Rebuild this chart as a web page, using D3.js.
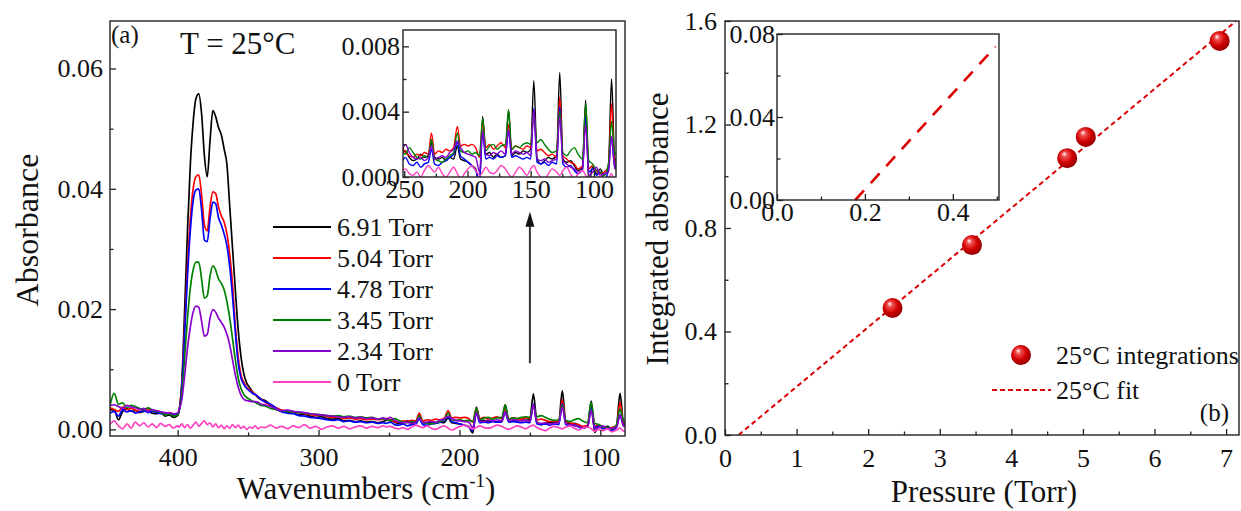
<!DOCTYPE html>
<html>
<head>
<meta charset="utf-8">
<script src="https://cdn.jsdelivr.net/npm/d3@7"></script>
<style>
body { margin: 0; background: #fff; }
svg { display: block; }
text { font-family: "Liberation Serif", "Times New Roman", serif; fill: #111; }
</style>
</head>
<body>
<script>
// ---- panel (a): spectra, one shared wavenumber grid (cm-1) ----
var wavenumbers = [
	448, 445, 442, 439, 436, 433, 430, 427, 424, 421, 418, 415, 412, 409, 406, 403, 400,
	399, 397, 395, 393, 391, 389, 387, 385, 383, 381, 379, 377, 375, 373, 371, 369, 367, 365, 363, 361, 359, 357, 355, 353, 351, 349, 347, 345, 343, 341,
	338, 334, 330, 326, 322, 318, 314, 310, 306, 302, 298, 294, 290, 286, 282, 278, 274, 270, 266, 262, 258, 254,
	252, 249, 246, 243, 240, 237, 234, 231, 228.5, 226, 223, 220, 217, 214, 211, 208, 205.5, 202.5, 199.5, 196.5, 193.5, 190.5, 188,
	185.5, 182.5, 179.5, 176.5, 173.5, 170, 167.5, 165, 162, 159, 156, 153, 150, 147.5, 145, 142, 139, 136, 133, 129.5, 127,
	124.5, 121.5, 118.5, 115.5, 112.5, 109, 106.5, 104, 101, 98, 95, 92, 88.5, 86, 83.5, 82
];

var abs691 = [
	0.0033, 0.0032, 0.0016, 0.0030, 0.0034, 0.0030, 0.0031, 0.0028, 0.0030, 0.0031, 0.0027, 0.0026, 0.0028, 0.0022, 0.0024, 0.0020, 0.0023,
	0.0030, 0.0080, 0.0200, 0.0330, 0.0440, 0.0510, 0.0550, 0.0558, 0.0525, 0.0455, 0.0420, 0.0480, 0.0530, 0.0520, 0.0502, 0.0490, 0.0466, 0.0440, 0.0370, 0.0300, 0.0230, 0.0165, 0.0120, 0.0092, 0.0077, 0.0070, 0.0063, 0.0058, 0.0053, 0.0050,
	0.0048, 0.0040, 0.0033, 0.0030, 0.0029, 0.0028, 0.0024, 0.0025, 0.0022, 0.0020, 0.0021, 0.0018, 0.0017, 0.0018, 0.0014, 0.0015, 0.0013, 0.0014, 0.0012, 0.0013, 0.0011, 0.0013,
	0.0015, 0.0016, 0.0012, 0.0010, 0.0011, 0.0014, 0.0012, 0.0013, 0.0021, 0.0012, 0.0011, 0.0012, 0.0010, 0.0012, 0.0011, 0.0019, 0.0011, 0.0010, 0.0009, 0.0007, 0.0005, -0.0006, 0.0037,
	0.0014, 0.0015, 0.0012, 0.0014, 0.0012, 0.0013, 0.0041, 0.0013, 0.0015, 0.0014, 0.0016, 0.0015, 0.0017, 0.0059, 0.0012, 0.0008, 0.0010, 0.0012, 0.0011, 0.0013, 0.0064,
	0.0011, 0.0009, 0.0010, 0.0007, 0.0004, 0.0006, 0.0047, -0.0005, 0.0006, 0.0002, 0.0005, 0.0001, 0.0007, 0.0060, 0.0010, 0.0012
];
var abs504 = [
	0.0036, 0.0033, 0.0030, 0.0037, 0.0033, 0.0035, 0.0032, 0.0030, 0.0033, 0.0034, 0.0030, 0.0031, 0.0029, 0.0027, 0.0028, 0.0026, 0.0026,
	0.0032, 0.0075, 0.0170, 0.0270, 0.0350, 0.0400, 0.0420, 0.0423, 0.0390, 0.0340, 0.0330, 0.0370, 0.0395, 0.0392, 0.0370, 0.0355, 0.0345, 0.0325, 0.0290, 0.0240, 0.0170, 0.0120, 0.0090, 0.0078, 0.0070, 0.0066, 0.0062, 0.0058, 0.0054, 0.0051,
	0.0045, 0.0041, 0.0036, 0.0032, 0.0031, 0.0029, 0.0028, 0.0026, 0.0025, 0.0023, 0.0024, 0.0021, 0.0020, 0.0021, 0.0018, 0.0019, 0.0017, 0.0018, 0.0016, 0.0017, 0.0016, 0.0017,
	0.0018, 0.0015, 0.0013, 0.0012, 0.0014, 0.0013, 0.0015, 0.0014, 0.0027, 0.0014, 0.0016, 0.0015, 0.0017, 0.0016, 0.0018, 0.0031, 0.0019, 0.0020, 0.0019, 0.0020, 0.0018, 0.0012, 0.0034,
	0.0018, 0.0020, 0.0017, 0.0019, 0.0021, 0.0018, 0.0032, 0.0017, 0.0019, 0.0018, 0.0017, 0.0019, 0.0018, 0.0041, 0.0016, 0.0017, 0.0015, 0.0013, 0.0014, 0.0012, 0.0049,
	0.0013, 0.0011, 0.0009, 0.0008, 0.0005, 0.0007, 0.0041, 0.0005, 0.0007, 0.0004, 0.0002, 0.0003, 0.0006, 0.0045, 0.0008, 0.0010
];
var abs478 = [
	0.0027, 0.0030, 0.0022, 0.0033, 0.0029, 0.0031, 0.0027, 0.0029, 0.0031, 0.0028, 0.0030, 0.0028, 0.0026, 0.0025, 0.0027, 0.0024, 0.0025,
	0.0030, 0.0072, 0.0160, 0.0255, 0.0330, 0.0380, 0.0398, 0.0400, 0.0365, 0.0315, 0.0312, 0.0350, 0.0378, 0.0375, 0.0352, 0.0340, 0.0325, 0.0305, 0.0270, 0.0220, 0.0160, 0.0110, 0.0085, 0.0075, 0.0068, 0.0064, 0.0060, 0.0058, 0.0055, 0.0050,
	0.0046, 0.0042, 0.0035, 0.0029, 0.0027, 0.0026, 0.0023, 0.0022, 0.0020, 0.0019, 0.0018, 0.0016, 0.0015, 0.0016, 0.0013, 0.0014, 0.0012, 0.0013, 0.0011, 0.0012, 0.0010, 0.0011,
	0.0010, 0.0012, 0.0008, 0.0007, 0.0009, 0.0006, 0.0008, 0.0009, 0.0017, 0.0008, 0.0007, 0.0009, 0.0010, 0.0012, 0.0014, 0.0021, 0.0013, 0.0011, 0.0009, 0.0007, 0.0004, -0.0002, 0.0027,
	0.0011, 0.0012, 0.0011, 0.0013, 0.0012, 0.0013, 0.0028, 0.0012, 0.0013, 0.0012, 0.0011, 0.0012, 0.0011, 0.0042, 0.0009, 0.0008, 0.0009, 0.0007, 0.0009, 0.0008, 0.0043,
	0.0008, 0.0006, 0.0007, 0.0004, 0.0002, 0.0005, 0.0037, 0.0003, 0.0005, 0.0001, 0.0003, -0.0002, 0.0004, 0.0024, 0.0006, 0.0008
];
var abs345 = [
	0.0040, 0.0060, 0.0042, 0.0044, 0.0036, 0.0040, 0.0038, 0.0035, 0.0033, 0.0036, 0.0032, 0.0030, 0.0028, 0.0024, 0.0026, 0.0022, 0.0024,
	0.0030, 0.0060, 0.0120, 0.0185, 0.0235, 0.0265, 0.0278, 0.0278, 0.0250, 0.0218, 0.0222, 0.0255, 0.0272, 0.0265, 0.0250, 0.0243, 0.0232, 0.0212, 0.0185, 0.0150, 0.0115, 0.0085, 0.0068, 0.0058, 0.0053, 0.0050, 0.0047, 0.0045, 0.0042, 0.0040,
	0.0039, 0.0035, 0.0033, 0.0031, 0.0030, 0.0029, 0.0028, 0.0027, 0.0026, 0.0025, 0.0024, 0.0023, 0.0022, 0.0023, 0.0021, 0.0022, 0.0020, 0.0021, 0.0019, 0.0020, 0.0017, 0.0018,
	0.0016, 0.0014, 0.0018, 0.0015, 0.0012, 0.0011, 0.0013, 0.0012, 0.0023, 0.0011, 0.0010, 0.0009, 0.0011, 0.0013, 0.0015, 0.0027, 0.0016, 0.0015, 0.0016, 0.0014, 0.0015, 0.0013, 0.0036,
	0.0016, 0.0019, 0.0020, 0.0017, 0.0019, 0.0020, 0.0041, 0.0017, 0.0019, 0.0018, 0.0020, 0.0021, 0.0020, 0.0039, 0.0021, 0.0023, 0.0020, 0.0017, 0.0015, 0.0016, 0.0040,
	0.0015, 0.0013, 0.0016, 0.0018, 0.0014, 0.0011, 0.0045, 0.0010, 0.0008, 0.0004, 0.0003, 0.0001, 0.0008, 0.0034, 0.0014, 0.0015
];
var abs234 = [
	0.0040, 0.0041, 0.0038, 0.0035, 0.0040, 0.0037, 0.0036, 0.0033, 0.0035, 0.0030, 0.0033, 0.0031, 0.0029, 0.0028, 0.0027, 0.0026, 0.0027,
	0.0032, 0.0050, 0.0090, 0.0135, 0.0170, 0.0195, 0.0205, 0.0203, 0.0180, 0.0155, 0.0158, 0.0185, 0.0199, 0.0195, 0.0185, 0.0178, 0.0170, 0.0158, 0.0140, 0.0115, 0.0090, 0.0070, 0.0057, 0.0050, 0.0048, 0.0047, 0.0046, 0.0046, 0.0045, 0.0042,
	0.0041, 0.0038, 0.0034, 0.0031, 0.0032, 0.0030, 0.0029, 0.0028, 0.0026, 0.0025, 0.0024, 0.0023, 0.0022, 0.0021, 0.0020, 0.0021, 0.0019, 0.0020, 0.0018, 0.0019, 0.0017, 0.0019,
	0.0017, 0.0020, 0.0015, 0.0012, 0.0011, 0.0012, 0.0010, 0.0012, 0.0019, 0.0011, 0.0012, 0.0013, 0.0012, 0.0015, 0.0017, 0.0022, 0.0018, 0.0015, 0.0014, 0.0013, 0.0012, 0.0003, 0.0028,
	0.0014, 0.0013, 0.0015, 0.0014, 0.0016, 0.0014, 0.0029, 0.0014, 0.0016, 0.0015, 0.0014, 0.0015, 0.0013, 0.0041, 0.0011, 0.0010, 0.0011, 0.0009, 0.0010, 0.0011, 0.0037,
	0.0010, 0.0008, 0.0006, 0.0005, 0.0003, 0.0004, 0.0032, 0.0001, 0.0003, 0.0006, 0.0001, 0.0002, 0.0003, 0.0025, 0.0005, 0.0006
];
var abs000 = [
	0.0008, 0.0014, 0.0006, 0.0001, 0.0009, 0.0002, 0.0012, 0.0006, 0.0011, 0.0004, 0.0009, 0.0003, 0.0010, 0.0005, 0.0008, 0.0002, 0.0006,
	0.0004, 0.0009, 0.0003, 0.0008, 0.0002, 0.0007, 0.0012, 0.0005, 0.0010, 0.0014, 0.0008, 0.0011, 0.0004, 0.0009, 0.0003, 0.0007, 0.0001, 0.0006, 0.0002, 0.0008, 0.0003, 0.0007, 0.0002, 0.0005, 0.0000, 0.0004, 0.0002, 0.0006, 0.0001, 0.0004,
	0.0003, 0.0007, 0.0002, 0.0005, 0.0001, 0.0006, 0.0003, 0.0008, 0.0002, 0.0005, 0.0000, 0.0004, 0.0006, 0.0002, 0.0005, 0.0001, 0.0004, 0.0006, 0.0002, 0.0005, 0.0003, 0.0006,
	0.0004, 0.0005, 0.0002, 0.0001, 0.0003, 0.0000, 0.0004, 0.0007, 0.0005, 0.0003, 0.0006, 0.0002, 0.0000, 0.0003, 0.0006, 0.0002, -0.0001, 0.0002, 0.0005, 0.0007, 0.0004, 0.0001, 0.0003,
	0.0006, 0.0003, 0.0002, 0.0004, 0.0007, 0.0005, 0.0002, 0.0000, 0.0003, 0.0006, 0.0004, 0.0001, 0.0005, 0.0007, 0.0003, 0.0000, -0.0002, 0.0002, 0.0005, 0.0003, 0.0001,
	0.0004, 0.0006, 0.0002, -0.0001, 0.0002, 0.0004, 0.0001, -0.0003, 0.0000, -0.0002, 0.0001, -0.0004, -0.0001, 0.0002, -0.0003, -0.0002
];

var seriesLabels = ['6.91 Torr', '5.04 Torr', '4.78 Torr', '3.45 Torr', '2.34 Torr', '0 Torr'];
var seriesColors = ['#000000', '#ff0000', '#0000ff', '#008000', '#8800cc', '#ff40c0'];
var seriesValues = [abs691, abs504, abs478, abs345, abs234, abs000];

// ---- panel (b): integrated absorbance vs pressure ----
var pressures = [2.34, 3.45, 4.78, 5.04, 6.91];
var integrated = [0.491, 0.734, 1.07, 1.152, 1.523];
// end points of the fitted line (Torr, integrated absorbance)
var fitEnds = [[0.19, 0], [7.14, 1.6]];
var insetFitEnds = [[0.178, 0], [0.497, 0.0739]];

// tick values
var xTicksA = [400, 300, 200, 100], xMinorA = [350, 250, 150];
var yTicksA = [0, 0.02, 0.04, 0.06], yMinorA = [0.01, 0.03, 0.05];
var xTicksAi = [250, 200, 150, 100], xMinorAi = [225, 175, 125];
var yTicksAi = [0, 0.004, 0.008], yMinorAi = [0.002, 0.006];
var xTicksB = [0, 1, 2, 3, 4, 5, 6, 7], xMinorB = [0.5, 1.5, 2.5, 3.5, 4.5, 5.5, 6.5];
var yTicksB = [0, 0.4, 0.8, 1.2, 1.6], yMinorB = [0.2, 0.6, 1.0, 1.4];
var xTicksBi = [0, 0.2, 0.4], xMinorBi = [0.1, 0.3, 0.5];
var yTicksBi = [0, 0.04, 0.08], yMinorBi = [0.02, 0.06];

var FONT = '"Liberation Serif", "Times New Roman", serif';
var tickFont = 26;

var svg = d3.select('body').append('svg')
	.attr('width', 1241)
	.attr('height', 511)
	.attr('font-family', FONT);

var defs = svg.append('defs');
var grad = defs.append('radialGradient')
	.attr('id', 'ball')
	.attr('cx', '45%').attr('cy', '45%').attr('r', '60%')
	.attr('fx', '35%').attr('fy', '28%');
grad.append('stop').attr('offset', '0%').attr('stop-color', '#ffffff');
grad.append('stop').attr('offset', '22%').attr('stop-color', '#f05050');
grad.append('stop').attr('offset', '60%').attr('stop-color', '#d20000');
grad.append('stop').attr('offset', '100%').attr('stop-color', '#8a0000');

function addClip(id, w, h) {
	defs.append('clipPath').attr('id', id)
		.append('rect').attr('width', w).attr('height', h);
}

// Draw the ticks (inward) and tick labels for one framed plot, then the frame itself.
function drawAxes(g, x, y, w, h, o) {
	g.append('g').attr('transform', 'translate(0,' + h + ')')
		.call(d3.axisBottom(x).tickValues(o.xt).tickSize(-6).tickPadding(o.xpad).tickFormat(o.xf))
		.call(styleAxis);
	g.append('g').attr('transform', 'translate(0,' + h + ')')
		.call(d3.axisBottom(x).tickValues(o.xm).tickSize(-3.5).tickFormat(''))
		.call(styleAxis);
	g.append('g')
		.call(d3.axisLeft(y).tickValues(o.yt).tickSize(-6).tickPadding(o.ypad).tickFormat(o.yf))
		.call(styleAxis);
	g.append('g')
		.call(d3.axisLeft(y).tickValues(o.ym).tickSize(-3.5).tickFormat(''))
		.call(styleAxis);
	g.append('rect')
		.attr('width', w).attr('height', h)
		.attr('fill', 'none')
		.attr('stroke', '#222')
		.attr('stroke-width', 1.4);
}

function styleAxis(a) {
	a.attr('font-family', FONT).attr('font-size', tickFont);
	a.select('.domain').remove();
	a.selectAll('line').attr('stroke', '#222').attr('stroke-width', 1.3);
	a.selectAll('text').attr('fill', '#111');
}

// ================= panel (a) =================
var wA = 515, hA = 415;
var gA = svg.append('g').attr('transform', 'translate(110,21)');
var xA = d3.scaleLinear().domain([448, 82.5]).range([0, wA]);
var yA = d3.scaleLinear().domain([-0.0011, 0.0679]).range([hA, 0]);
addClip('clipA', wA, hA);

var lineA = d3.line()
	.x(function(d, i) { return xA(wavenumbers[i]); })
	.y(function(d) { return yA(d); })
	.curve(d3.curveMonotoneX);

var plotA = gA.append('g').attr('clip-path', 'url(#clipA)');
for (var s = 0; s < seriesValues.length; s++) {
	plotA.append('path')
		.attr('d', lineA(seriesValues[s]))
		.attr('fill', 'none')
		.attr('stroke', seriesColors[s])
		.attr('stroke-width', 1.7)
		.attr('stroke-linejoin', 'round');
}

drawAxes(gA, xA, yA, wA, hA, {
	xt: xTicksA, xm: xMinorA, yt: yTicksA, ym: yMinorA,
	xf: d3.format('d'), yf: d3.format('.2f'), xpad: 12, ypad: 7
});

// arrow pointing up at the inset
var arrowX = xA(150), arrowFrom = yA(0.011), arrowTip = yA(0.0362);
gA.append('line')
	.attr('x1', arrowX).attr('x2', arrowX)
	.attr('y1', arrowFrom).attr('y2', arrowTip + 12)
	.attr('stroke', '#333').attr('stroke-width', 2);
gA.append('path')
	.attr('d', 'M' + arrowX + ',' + arrowTip + ' l-4.5,15 l9,0 z')
	.attr('fill', '#111');

// legend
for (var s = 0; s < seriesLabels.length; s++) {
	var ly = 206 + s * 31;
	gA.append('line')
		.attr('x1', 163).attr('x2', 221)
		.attr('y1', ly).attr('y2', ly)
		.attr('stroke', seriesColors[s]).attr('stroke-width', 2);
	gA.append('text')
		.attr('x', 227).attr('y', ly + 8.5)
		.attr('font-size', 26)
		.text(seriesLabels[s]);
}

svg.append('text').attr('x', 111).attr('y', 43).attr('font-size', 25).text('(a)');
svg.append('text').attr('x', 180).attr('y', 54).attr('font-size', 31).text('T = 25°C');

svg.append('text')
	.attr('transform', 'translate(38,230) rotate(-90)')
	.attr('text-anchor', 'middle')
	.attr('font-size', 32)
	.text('Absorbance');

var wnTitle = svg.append('text')
	.attr('x', 366).attr('y', 499)
	.attr('text-anchor', 'middle')
	.attr('font-size', 31);
wnTitle.append('tspan').text('Wavenumbers (cm');
wnTitle.append('tspan').attr('dy', -12).attr('font-size', 19).text('-1');
wnTitle.append('tspan').attr('dy', 12).text(')');

// ---- inset of panel (a) ----
var wAi = 213, hAi = 147;
var gAi = svg.append('g').attr('transform', 'translate(403,30)');
var xAi = d3.scaleLinear().domain([251, 82.5]).range([0, wAi]);
var yAi = d3.scaleLinear().domain([0, 0.009]).range([hAi, 0]);
addClip('clipAi', wAi, hAi);
gAi.append('rect').attr('width', wAi).attr('height', hAi).attr('fill', '#fff');

var lineAi = d3.line()
	.x(function(d, i) { return xAi(wavenumbers[i]); })
	.y(function(d) { return yAi(d); })
	.curve(d3.curveMonotoneX);

var plotAi = gAi.append('g').attr('clip-path', 'url(#clipAi)');
for (var s = 0; s < seriesValues.length; s++) {
	plotAi.append('path')
		.attr('d', lineAi(seriesValues[s]))
		.attr('fill', 'none')
		.attr('stroke', seriesColors[s])
		.attr('stroke-width', 1.4)
		.attr('stroke-linejoin', 'round');
}

drawAxes(gAi, xAi, yAi, wAi, hAi, {
	xt: xTicksAi, xm: xMinorAi, yt: yTicksAi, ym: yMinorAi,
	xf: d3.format('d'), yf: d3.format('.3f'), xpad: 3, ypad: 3
});

// ================= panel (b) =================
var wB = 514, hB = 414;
var gB = svg.append('g').attr('transform', 'translate(725,21)');
var xB = d3.scaleLinear().domain([0, 7.18]).range([0, wB]);
var yB = d3.scaleLinear().domain([0, 1.6]).range([hB, 0]);
addClip('clipB', wB, hB);

var plotB = gB.append('g').attr('clip-path', 'url(#clipB)');
plotB.append('path')
	.attr('d', d3.line().x(function(d) { return xB(d[0]); }).y(function(d) { return yB(d[1]); })(fitEnds))
	.attr('fill', 'none')
	.attr('stroke', '#dd0000')
	.attr('stroke-width', 2)
	.attr('stroke-dasharray', '5,3.5');

drawAxes(gB, xB, yB, wB, hB, {
	xt: xTicksB, xm: xMinorB, yt: yTicksB, ym: yMinorB,
	xf: d3.format('d'), yf: d3.format('.1f'), xpad: 14, ypad: 8
});

// ---- inset of panel (b) ----
var wBi = 222, hBi = 166;
var gBi = svg.append('g').attr('transform', 'translate(777,34)');
var xBi = d3.scaleLinear().domain([0, 0.505]).range([0, wBi]);
var yBi = d3.scaleLinear().domain([0, 0.08]).range([hBi, 0]);
gBi.append('rect').attr('width', wBi).attr('height', hBi).attr('fill', '#fff');
gBi.append('path')
	.attr('d', d3.line().x(function(d) { return xBi(d[0]); }).y(function(d) { return yBi(d[1]); })(insetFitEnds))
	.attr('fill', 'none')
	.attr('stroke', '#dd0000')
	.attr('stroke-width', 2.6)
	.attr('stroke-dasharray', '13,10');

drawAxes(gBi, xBi, yBi, wBi, hBi, {
	xt: xTicksBi, xm: xMinorBi, yt: yTicksBi, ym: yMinorBi,
	xf: d3.format('.1f'), yf: d3.format('.2f'), xpad: 3, ypad: 2
});

// markers drawn last so they sit on top of the fit line
gB.selectAll('circle.pt')
	.data(pressures)
	.enter().append('circle')
	.attr('class', 'pt')
	.attr('cx', function(d) { return xB(d); })
	.attr('cy', function(d, i) { return yB(integrated[i]); })
	.attr('r', 10)
	.attr('fill', 'url(#ball)');

// legend of panel (b)
svg.append('circle').attr('cx', 1021).attr('cy', 355).attr('r', 10).attr('fill', 'url(#ball)');
svg.append('text').attr('x', 1056).attr('y', 364).attr('font-size', 26).text('25°C integrations');
svg.append('line')
	.attr('x1', 992).attr('x2', 1051).attr('y1', 390).attr('y2', 390)
	.attr('stroke', '#dd0000').attr('stroke-width', 2).attr('stroke-dasharray', '5,3');
svg.append('text').attr('x', 1056).attr('y', 399).attr('font-size', 26).text('25°C fit');
svg.append('text').attr('x', 1229).attr('y', 421).attr('text-anchor', 'end').attr('font-size', 25).text('(b)');

svg.append('text')
	.attr('transform', 'translate(668,229) rotate(-90)')
	.attr('text-anchor', 'middle')
	.attr('font-size', 31)
	.text('Integrated absorbance');

svg.append('text')
	.attr('x', 984).attr('y', 502)
	.attr('text-anchor', 'middle')
	.attr('font-size', 31)
	.text('Pressure (Torr)');
</script>
</body>
</html>
